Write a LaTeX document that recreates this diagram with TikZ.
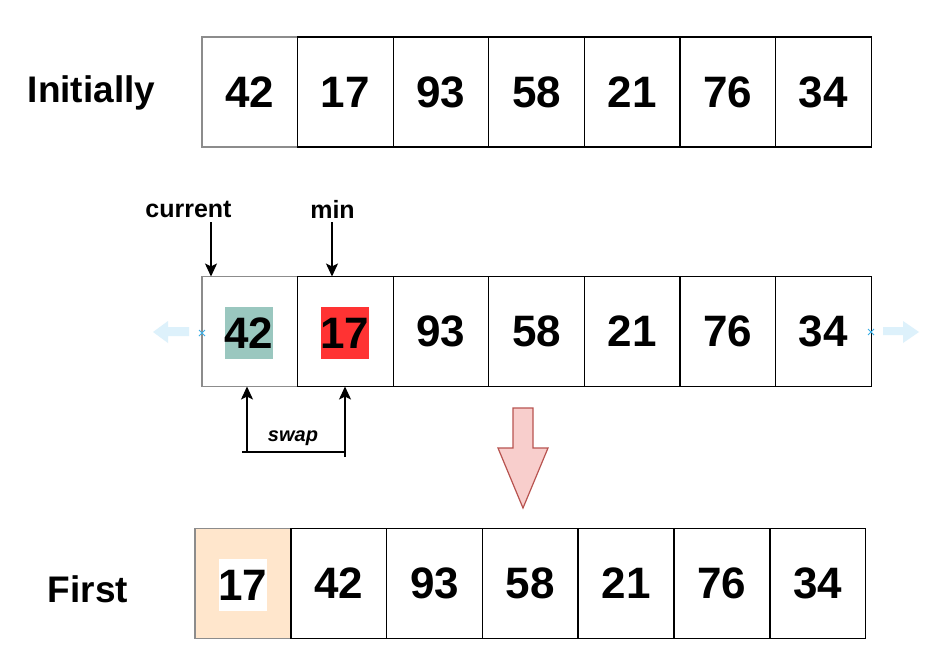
\documentclass[tikz,border=0pt]{standalone}
\usepackage{fontspec}
\setmainfont{Liberation Sans}
\usetikzlibrary{arrows.meta,calc}
\definecolor{cellgray}{HTML}{8C8C8C}
\definecolor{tealhl}{HTML}{9AC7BF}
\definecolor{redhl}{HTML}{FF3333}
\definecolor{bisque}{HTML}{FFE6CC}
\definecolor{ghost}{HTML}{DDF1FB}
\definecolor{xblue}{HTML}{3BAFE6}
\definecolor{pinkfill}{HTML}{F8CECC}
\definecolor{pinkdraw}{HTML}{B85450}
\begin{document}
\begin{tikzpicture}[x=1pt,y=-1pt,
  cell/.style={draw=black,line width=1.3pt,minimum width=95.6pt,minimum height=110pt,inner sep=0pt,outer sep=0pt,font=\fontsize{44}{44}\selectfont\bfseries},
  firstcell/.style={cell,draw=cellgray},
  hl/.style={inner sep=0pt,minimum width=48pt,minimum height=52pt,font=\fontsize{44}{44}\selectfont\bfseries},
  rowlabel/.style={font=\fontsize{37}{37}\selectfont\bfseries},
  ptrlabel/.style={font=\fontsize{25}{25}\selectfont\bfseries},
  arr/.style={line width=1.3pt,-{Stealth[length=13pt,width=12pt,inset=3pt]}},
  plain/.style={line width=1.3pt}
]
\useasboundingbox (0,0) rectangle (940,661);
\fill[white] (0,0) rectangle (940,661);

% Row labels
\node[rowlabel] (initially) at (91.5,93) {Initially};
\node[rowlabel] (first) at (88,589) {First};

% Top row
\node[firstcell] (t1) at (249.8,92) {42};
\foreach \v [count=\i from 2] in {17,93,58,21,76,34}{
  \node[cell] (t\i) at ({202+95.6*(\i-0.5)},92) {\v};
}

% Middle row
\node[firstcell] (m1) at (249.8,331.5) {};
\foreach \v [count=\i from 2] in {,93,58,21,76,34}{
  \node[cell] (m\i) at ({202+95.6*(\i-0.5)},331.5) {\v};
}
\node[hl,fill=tealhl] (h42) at (249,333) {42};
\node[hl,fill=redhl] (h17) at (345,333) {17};

% Bottom row
\node[firstcell,fill=bisque] (b1) at (242.9,583.5) {};
\foreach \v [count=\i from 2] in {42,93,58,21,76,34}{
  \node[cell] (b\i) at ({195+95.8*(\i-0.5)},583.5) {\v};
}
\node[hl,fill=white] (w17) at (243,585) {17};

% Pointer labels and arrows
\node[ptrlabel] (cur) at (188.5,209) {current};
\node[ptrlabel] (min) at (332.5,209) {min};
\coordinate (curtop) at (211,222);
\coordinate (mintop) at (332,222);
\draw[arr] (curtop) -- (curtop |- m1.north);
\draw[arr] (mintop) -- (mintop |- m2.north);

% Swap
\coordinate (sl) at (247,452);
\coordinate (sr) at (345,457);
\coordinate (hl) at (242,452);
\coordinate (hr) at (344,452);
\draw[arr] (sl) -- (sl |- m1.south);
\draw[arr] (sr) -- (sr |- m2.south);
\draw[plain] (hl) -- (hr);
\node[font=\fontsize{20}{20}\selectfont\bfseries\itshape] (swap) at (293,438) {swap};

% Ghost arrows and markers
\fill[ghost] (189,327) -- (168,327) -- (168,321) -- (153,332) -- (168,343) -- (168,336) -- (189,336) -- cycle;
\fill[ghost] (883,327) -- (903,327) -- (903,321) -- (919,332) -- (903,343) -- (903,335) -- (883,335) -- cycle;
\coordinate (xl) at (202,333);
\coordinate (xr) at (871,332);
\draw[xblue,line width=1pt] ($(xl)+(-3,-3)$) -- ($(xl)+(3,3)$) ($(xl)+(-3,3)$) -- ($(xl)+(3,-3)$);
\draw[xblue,line width=1pt] ($(xr)+(-3,-3)$) -- ($(xr)+(3,3)$) ($(xr)+(-3,3)$) -- ($(xr)+(3,-3)$);

% Big down arrow
\filldraw[fill=pinkfill,draw=pinkdraw,line width=1.2pt,line join=miter]
  (513,408) -- (533,408) -- (533,448) -- (548,448) -- (523,508) -- (498,448) -- (513,448) -- cycle;
\end{tikzpicture}
\end{document}
